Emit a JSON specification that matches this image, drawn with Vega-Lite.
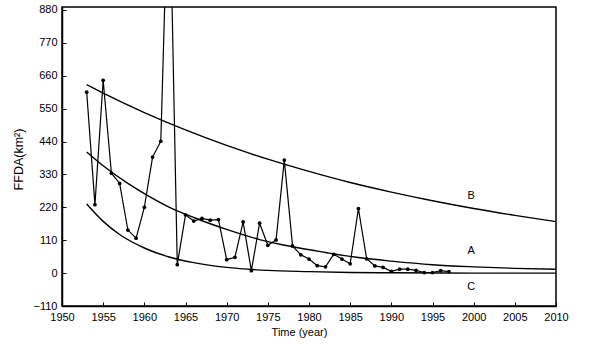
{
  "$schema": "https://vega.github.io/schema/vega-lite/v6.json",
  "width": 494,
  "height": 299,
  "autosize": {"type": "none"},
  "padding": {"left": 62, "top": 7, "right": 37, "bottom": 47},
  "background": "white",
  "config": {
    "view": {"stroke": "black", "strokeWidth": 1.5},
    "font": "Liberation Sans",
    "axis": {
      "grid": false,
      "domainColor": "black",
      "domainWidth": 1.5,
      "tickColor": "black",
      "tickSize": -4,
      "tickWidth": 1,
      "labelFlush": false,
      "labelOverlap": false,
      "labelColor": "black",
      "labelFontSize": 11,
      "labelFont": "Liberation Sans",
      "titleFont": "Liberation Sans",
      "titleFontSize": 11,
      "titleFontWeight": "normal",
      "titleColor": "black"
    }
  },
  "datasets": {
    "obs": [
      {"year": 1953, "value": 605}, {"year": 1954, "value": 229}, {"year": 1955, "value": 645},
      {"year": 1956, "value": 334}, {"year": 1957, "value": 300}, {"year": 1958, "value": 144},
      {"year": 1959, "value": 117}, {"year": 1960, "value": 220}, {"year": 1961, "value": 388},
      {"year": 1962, "value": 441}, {"year": 1963, "value": 1400}, {"year": 1964, "value": 28},
      {"year": 1965, "value": 195}, {"year": 1966, "value": 174}, {"year": 1967, "value": 183},
      {"year": 1968, "value": 177}, {"year": 1969, "value": 179}, {"year": 1970, "value": 45},
      {"year": 1971, "value": 53}, {"year": 1972, "value": 171}, {"year": 1973, "value": 8},
      {"year": 1974, "value": 167}, {"year": 1975, "value": 93}, {"year": 1976, "value": 111},
      {"year": 1977, "value": 378}, {"year": 1978, "value": 91}, {"year": 1979, "value": 61},
      {"year": 1980, "value": 47}, {"year": 1981, "value": 25}, {"year": 1982, "value": 21},
      {"year": 1983, "value": 63}, {"year": 1984, "value": 47}, {"year": 1985, "value": 31},
      {"year": 1986, "value": 216}, {"year": 1987, "value": 48}, {"year": 1988, "value": 24},
      {"year": 1989, "value": 19}, {"year": 1990, "value": 6}, {"year": 1991, "value": 13},
      {"year": 1992, "value": 13}, {"year": 1993, "value": 9}, {"year": 1994, "value": 2},
      {"year": 1995, "value": 2}, {"year": 1996, "value": 8}, {"year": 1997, "value": 5}
    ],
    "curves": [
      {"curve": "B", "year": 1953, "value": 630}, {"curve": "B", "year": 1955, "value": 602},
      {"curve": "B", "year": 1960, "value": 537}, {"curve": "B", "year": 1965, "value": 479},
      {"curve": "B", "year": 1970, "value": 427}, {"curve": "B", "year": 1975, "value": 381},
      {"curve": "B", "year": 1980, "value": 340}, {"curve": "B", "year": 1985, "value": 303},
      {"curve": "B", "year": 1990, "value": 271}, {"curve": "B", "year": 1995, "value": 242},
      {"curve": "B", "year": 2000, "value": 216}, {"curve": "B", "year": 2005, "value": 193},
      {"curve": "B", "year": 2010, "value": 172},
      {"curve": "A", "year": 1953, "value": 405}, {"curve": "A", "year": 1955, "value": 359},
      {"curve": "A", "year": 1958, "value": 300}, {"curve": "A", "year": 1960, "value": 266},
      {"curve": "A", "year": 1963, "value": 221}, {"curve": "A", "year": 1966, "value": 186},
      {"curve": "A", "year": 1970, "value": 146}, {"curve": "A", "year": 1974, "value": 112},
      {"curve": "A", "year": 1978, "value": 88}, {"curve": "A", "year": 1982, "value": 69},
      {"curve": "A", "year": 1986, "value": 52}, {"curve": "A", "year": 1990, "value": 40},
      {"curve": "A", "year": 1995, "value": 28}, {"curve": "A", "year": 2000, "value": 21},
      {"curve": "A", "year": 2005, "value": 16}, {"curve": "A", "year": 2010, "value": 13},
      {"curve": "C", "year": 1953, "value": 231}, {"curve": "C", "year": 1955, "value": 173},
      {"curve": "C", "year": 1957, "value": 129}, {"curve": "C", "year": 1960, "value": 84},
      {"curve": "C", "year": 1963, "value": 54}, {"curve": "C", "year": 1966, "value": 35},
      {"curve": "C", "year": 1970, "value": 19}, {"curve": "C", "year": 1975, "value": 9},
      {"curve": "C", "year": 1980, "value": 5}, {"curve": "C", "year": 1985, "value": 2},
      {"curve": "C", "year": 1990, "value": 1}, {"curve": "C", "year": 2000, "value": 0},
      {"curve": "C", "year": 2010, "value": 0}
    ],
    "labels": [
      {"name": "B", "year": 1999.7, "value": 259},
      {"name": "A", "year": 1999.7, "value": 75},
      {"name": "C", "year": 1999.7, "value": -47}
    ]
  },
  "encoding": {
    "x": {
      "field": "year", "type": "quantitative",
      "scale": {"domain": [1950, 2010], "nice": false, "zero": false},
      "axis": {
        "values": [1950, 1955, 1960, 1965, 1970, 1975, 1980, 1985, 1990, 1995, 2000, 2005, 2010],
        "format": "d",
        "labelPadding": 9,
        "title": "Time (year)",
        "titleX": 237, "titleY": 26,
        "titleAlign": "center", "titleBaseline": "middle"
      }
    },
    "y": {
      "field": "value", "type": "quantitative",
      "scale": {"domain": [-110, 890], "nice": false, "zero": false},
      "axis": {
        "values": [-110, 0, 110, 220, 330, 440, 550, 660, 770, 880],
        "labelPadding": 9,
        "title": "FFDA(km²)",
        "titleFontSize": 12.5,
        "titleX": -44, "titleY": 152,
        "titleAngle": -90,
        "titleAlign": "center", "titleBaseline": "middle"
      }
    }
  },
  "layer": [
    {
      "data": {"name": "curves"},
      "mark": {"type": "line", "color": "black", "strokeWidth": 1.4, "interpolate": "monotone", "clip": true},
      "encoding": {"detail": {"field": "curve"}}
    },
    {
      "data": {"name": "obs"},
      "mark": {"type": "line", "color": "black", "strokeWidth": 1.2, "clip": true},
      "encoding": {}
    },
    {
      "data": {"name": "obs"},
      "mark": {"type": "circle", "color": "black", "opacity": 1, "size": 14, "clip": true},
      "encoding": {}
    },
    {
      "data": {"name": "labels"},
      "mark": {"type": "text", "color": "black", "fontSize": 11, "font": "Liberation Sans"},
      "encoding": {"text": {"field": "name"}}
    }
  ]
}
